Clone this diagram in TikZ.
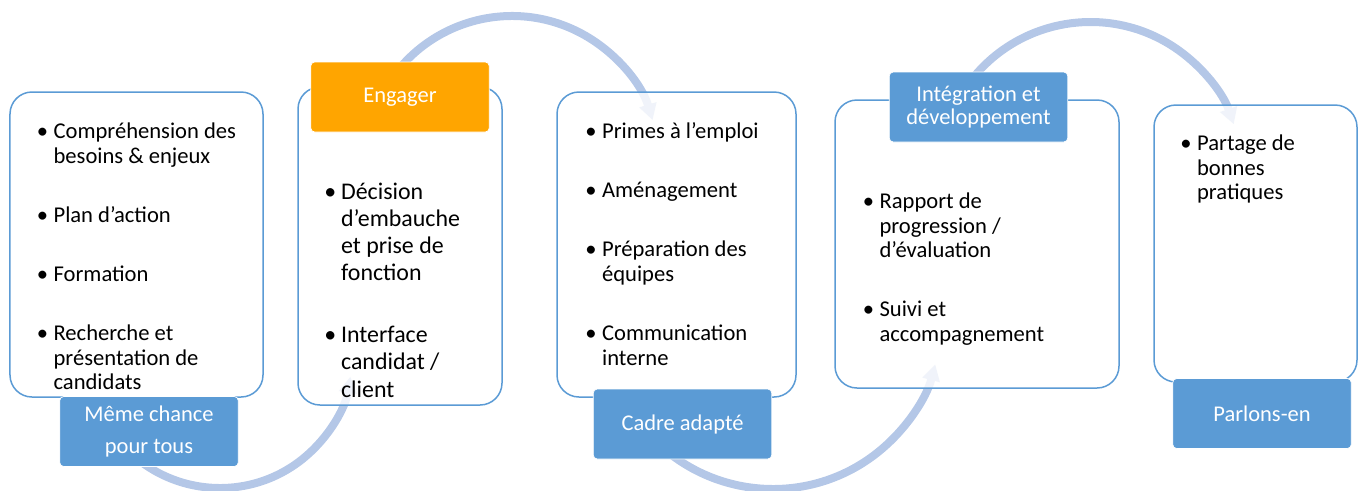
\documentclass[tikz,border=0pt]{standalone}
\usepackage{fontspec}
\setmainfont{Carlito}
\usetikzlibrary{arrows.meta}

\definecolor{bleuSA}{RGB}{91,155,213}
\definecolor{orangeSA}{RGB}{255,165,0}
\definecolor{arcSA}{RGB}{180,199,231}

\newlength\puceind
\setlength\puceind{0.335cm}
\newcommand\puce[1]{\par\leftskip=\puceind\noindent\llap{\makebox[\puceind][l]{\textbullet}}#1\par}
\newcommand\ecart{\vspace{0.69cm}}

\begin{document}
\begin{tikzpicture}[
        bloc/.style={% For the white boxes
            rectangle,
            rounded corners=0.44cm,
            draw=bleuSA,
            line width=0.03cm,
            fill=white,
            fill opacity=0.8,
            },
        etiquette/.style={% For the titles of the boxes
            rectangle,
            rounded corners=0.08cm,
            fill=bleuSA,
            draw=white,
            text=white,
            minimum width=3.57cm,
            minimum height=1.4cm,
            align=center,
            font=\fontsize{12.8}{13.6}\selectfont,
            },
        liste/.style={% For the bullet lists
            anchor=base west,
            inner sep=0pt,
            text width=5cm,
            align=flush left,
            font=\fontsize{12.85}{14}\selectfont,
            },
        fleche/.style={% Arrows with big arcs
            line width=0.16cm,
            draw=arcSA,
            -{Triangle[width=0.34cm,length=0.32cm]},
            },
            ]
         \useasboundingbox (0,0) rectangle (27.24,-9.8);
         % centres of the arcs
         \coordinate (c1) at (4.40,-7.12);
         \coordinate (c2) at (10.24,-3.26);
         \coordinate (c3) at (15.46,-6.42);
         \coordinate (c4) at (21.81,-3.47);
         \draw[fleche] ([shift={(220:2.64)}]c1) arc[start angle=220, end angle=351, radius=2.64];
         \draw[fleche] ([shift={(150:2.94)}]c2) arc[start angle=150, end angle=17, radius=2.94];
         \draw[fleche] ([shift={(220:3.36)}]c3) arc[start angle=220, end angle=345, radius=3.36];
         \draw[fleche] ([shift={(145:3.03)}]c4) arc[start angle=145, end angle=19, radius=3.03];
         % the boxes
         \node [bloc, minimum width=5.06cm, minimum height=6.10cm] (box1) at (2.73,-4.89) {};
         \node [bloc, minimum width=4.08cm, minimum height=6.36cm] (box2) at (8.00,-4.92) {};
         \node [bloc, minimum width=4.78cm, minimum height=6.10cm] (box3) at (13.53,-4.89) {};
         \node [bloc, minimum width=5.68cm, minimum height=5.76cm] (box4) at (19.54,-4.88) {};
         \node [bloc, minimum width=4.06cm, minimum height=5.54cm] (box5) at (25.11,-4.87) {};
         % the titles
         \node [etiquette, font=\fontsize{12.8}{18.7}\selectfont] (lab1) at (2.98,-8.63) {Même chance\\pour tous};
         \node [etiquette, fill=orangeSA] (lab2) at (8.00,-1.94) {Engager};
         \node [etiquette] (lab3) at (13.65,-8.48) {Cadre adapté};
         \node [etiquette] (lab4) at (19.57,-2.14) {Intégration et\\développement};
         \node [etiquette] (lab5) at (25.24,-8.27) {Parlons-en};
         % the lists
         \node [liste] (txt1) at (0.73,-2.28) {%
             \puce{Compréhension des\\besoins \& enjeux}\ecart
             \puce{Plan d’action}\ecart
             \puce{Formation}\ecart
             \puce{Recherche et\\présentation de\\candidats}};
         \node [liste, font=\fontsize{13.6}{15.5}\selectfont] (txt2) at (6.48,-3.44) {%
             \puce{Décision\\d’embauche\\et prise de\\fonction}\ecart
             \puce{Interface\\candidat /\\client}};
         \node [liste] (txt3) at (11.70,-2.28) {%
             \puce{Primes à l’emploi}\ecart
             \puce{Aménagement}\ecart
             \puce{Préparation des\\équipes}\ecart
             \puce{Communication\\interne}};
         \node [liste] (txt4) at (17.25,-3.68) {%
             \puce{Rapport de\\progression /\\d’évaluation}\ecart
             \puce{Suivi et\\accompagnement}};
         \node [liste] (txt5) at (23.60,-2.52) {%
             \puce{Partage de\\bonnes\\pratiques}};
        \end{tikzpicture}
\end{document}
